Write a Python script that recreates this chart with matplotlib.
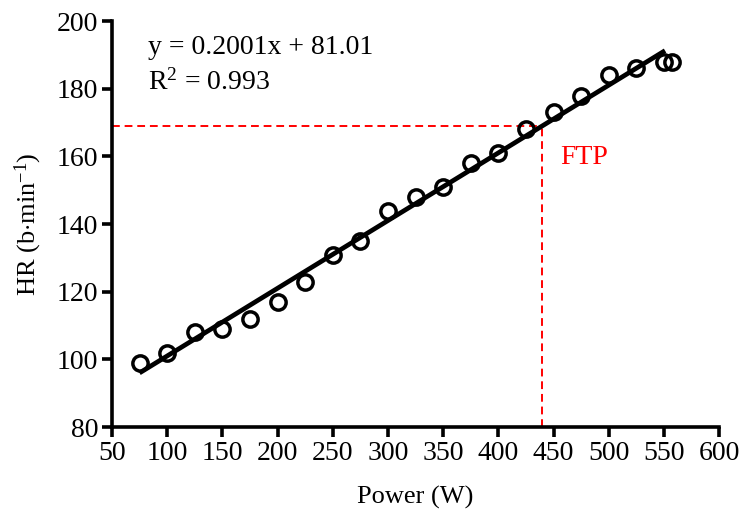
import numpy as np
import matplotlib.pyplot as plt

plt.rcParams["font.family"] = ["Liberation Serif", "DejaVu Serif"]
plt.rcParams["mathtext.fontset"] = "custom"
plt.rcParams["mathtext.rm"] = "Liberation Serif"
plt.rcParams["mathtext.it"] = "Liberation Serif:italic"

# datos de potencia y frecuencia cardiaca
potencia = [75, 100, 125, 150, 175, 200, 225, 250, 275, 300, 325,
            350, 375, 400, 425, 450, 475, 500, 525, 550, 557]
fc = [99, 102, 108, 109, 112, 117, 123, 131, 135, 144, 148,
      151, 158, 161, 168, 173, 178, 184, 186, 188, 188]

# recta de regresion y umbral
pendiente = 0.2001
intercepto = 81.01
r2 = 0.993
ftp_x = 440
ftp_y = pendiente * ftp_x + intercepto

fig = plt.figure(figsize=(7.46, 5.14), dpi=100)
ax = fig.add_axes([0.150, 0.169, 0.814, 0.790])

x_linea = np.array([75, 551])
ax.plot(x_linea, pendiente * x_linea + intercepto, color="black", lw=3.4,
        solid_capstyle="butt", zorder=3)
ax.plot(potencia, fc, "o", mfc="none", mec="black", mew=2.5, ms=11, zorder=4)

# lineas discontinuas del FTP
ax.plot([50, ftp_x], [ftp_y, ftp_y], color="red", ls=(0, (4, 2.5)), lw=1.4, zorder=2)
ax.plot([ftp_x, ftp_x], [80, ftp_y], color="red", ls=(0, (4, 2.5)), lw=1.4, zorder=2)
ax.text(456, 159.8, "FTP", color="red", fontsize=20, va="center")

ax.text(82.6, 192.3, "y = 0.2001x + 81.01", fontsize=20, va="center")
ax.text(82.6, 182.0, "R$^2$ = %.3f" % r2, fontsize=20, va="center")

ax.set_xlim(50, 600)
ax.set_ylim(80, 200)
ax.set_xticks(np.arange(50, 601, 50))
ax.set_yticks(np.arange(80, 201, 20))
ax.set_xlabel("Power (W)", fontsize=19, labelpad=14)
ax.set_ylabel("HR (b$\\cdot$min$^{-1}$)", fontsize=19, labelpad=9)

for lado in ["top", "right"]:
    ax.spines[lado].set_visible(False)
for lado in ["left", "bottom"]:
    ax.spines[lado].set_linewidth(2.6)
ax.tick_params(width=2.6, length=7, labelsize=20, direction="out", pad=3)

fig.savefig("out.png", dpi=100)
